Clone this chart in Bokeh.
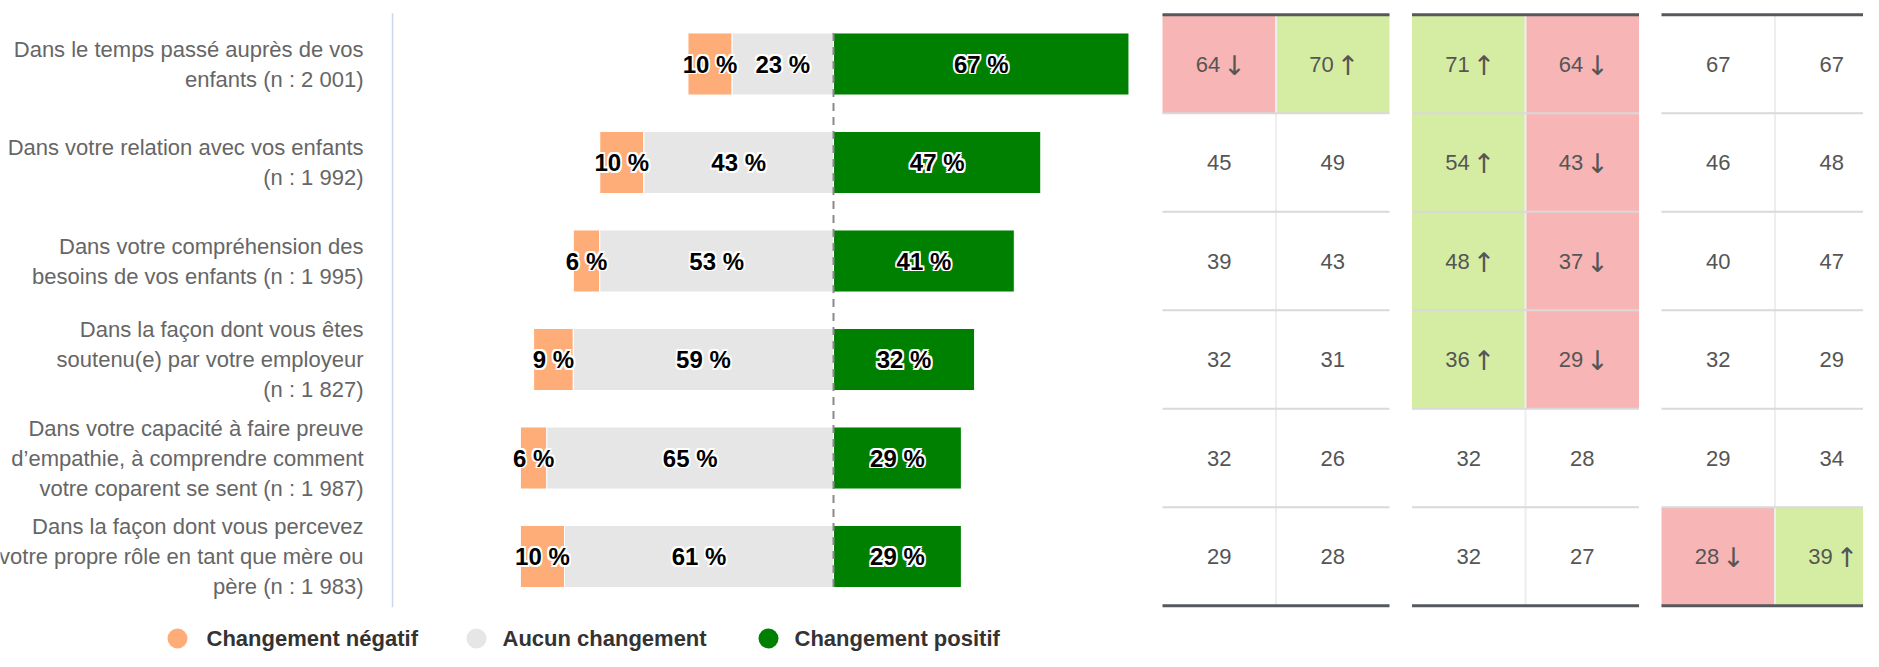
from bokeh.plotting import figure
from bokeh.models import Range1d, ColumnDataSource
from bokeh.core.properties import value
from bokeh.embed import file_html
from bokeh.resources import INLINE

# ---------------- data ----------------
categories = [
    "Dans le temps passé auprès de vos\nenfants (n : 2 001)",
    "Dans votre relation avec vos enfants\n(n : 1 992)",
    "Dans votre compréhension des\nbesoins de vos enfants (n : 1 995)",
    "Dans la façon dont vous êtes\nsoutenu(e) par votre employeur\n(n : 1 827)",
    "Dans votre capacité à faire preuve\nd’empathie, à comprendre comment\nvotre coparent se sent (n : 1 987)",
    "Dans la façon dont vous percevez\nvotre propre rôle en tant que mère ou\npère (n : 1 983)",
]
negatif = [10, 10, 6, 9, 6, 10]
aucun = [23, 43, 53, 59, 65, 61]
positif = [67, 47, 41, 32, 29, 29]
series_names = ["Changement négatif", "Aucun changement", "Changement positif"]

# table columns (values and significance flags)
col1 = [64, 45, 39, 32, 32, 29]
flag1 = ["down", None, None, None, None, None]
col2 = [70, 49, 43, 31, 26, 28]
flag2 = ["up", None, None, None, None, None]
col3 = [71, 54, 48, 36, 32, 32]
flag3 = ["up", "up", "up", "up", None, None]
col4 = [64, 43, 37, 29, 28, 27]
flag4 = ["down", "down", "down", "down", None, None]
col5 = [67, 46, 40, 32, 29, 28]
flag5 = [None, None, None, None, None, "down"]
col6 = [67, 48, 47, 29, 34, 39]
flag6 = [None, None, None, None, None, "up"]

# ---------------- styling ----------------
FONT = value("Liberation Sans")
C_NEG, C_NONE, C_POS = "#ffad78", "#e6e6e6", "#008000"
C_UP, C_DOWN = "#d5eda2", "#f7b5b5"

W, H = 1863, 651
PX = 4.41          # pixels per percent
ZERO = 833         # figure x of 0 %
ROW = 98.5         # pixels per category
C0 = 63.5          # figure y of first category centre
COLW = 113.5       # table column width (px)
TBL0 = 1162        # figure x of table left edge
GAP = 22.5 / COLW  # gap between column groups (in column units)

p = figure(width=W, height=H,
           x_range=Range1d(-ZERO / PX, (W - ZERO) / PX),
           y_range=Range1d((H - C0) / ROW, -C0 / ROW),
           output_backend="svg", toolbar_location=None,
           x_axis_location=None, y_axis_location=None,
           min_border=0, outline_line_color=None)
p.grid.visible = False
p.extra_x_ranges = {"tbl": Range1d(-TBL0 / COLW, (W - TBL0) / COLW)}

ys = list(range(len(categories)))
src = ColumnDataSource(dict(
    y=ys,
    neg_l=[-(n + z) for n, z in zip(negatif, aucun)],
    neg_r=[-z for z in aucun],
    none_l=[-z for z in aucun],
    zero=[0] * len(ys),
    pos_r=positif,
))
BH = 0.63
p.hbar(y="y", left="neg_l", right="neg_r", height=BH, source=src,
       fill_color=C_NEG, line_color="white", line_width=1)
p.hbar(y="y", left="none_l", right="zero", height=BH, source=src,
       fill_color=C_NONE, line_color="white", line_width=1)
p.hbar(y="y", left="zero", right="pos_r", height=BH, source=src,
       fill_color=C_POS, line_color="white", line_width=1)

# zero dashed line
p.segment(x0=[0], y0=[-BH / 2], x1=[0], y1=[ys[-1] + BH / 2],
          line_color="#8a8a8a", line_width=2, line_dash="8 6")

# axis line
p.segment(x0=[-100], y0=[-0.515], x1=[-100], y1=[ys[-1] + 0.515],
          line_color="#ccd6eb", line_width=1.5)

# category labels
p.text(x=[-100] * len(ys), y=ys, text=categories, x_offset=-29,
       text_align="right", text_baseline="middle", text_font=FONT,
       text_font_size="22px", text_color="#666666", text_line_height=1.2)

# data labels with white outline
lx, ly, lt = [], [], []
for i, (n, z, pp) in enumerate(zip(negatif, aucun, positif)):
    lx += [-(z + n / 2), -z / 2, pp / 2]
    ly += [i, i, i]
    lt += [f"{n} %", f"{z} %", f"{pp} %"]
lsrc = ColumnDataSource(dict(x=lx, y=ly, t=lt))
d = 1.6
for dx, dy in [(-d, 0), (d, 0), (0, -d), (0, d), (-d, -d), (d, d), (-d, d), (d, -d)]:
    p.text(x="x", y="y", text="t", source=lsrc, x_offset=dx, y_offset=dy,
           text_align="center", text_baseline="middle", text_font=FONT,
           text_font_size="24px", text_font_style="bold", text_color="white")
p.text(x="x", y="y", text="t", source=lsrc,
       text_align="center", text_baseline="middle", text_font=FONT,
       text_font_size="24px", text_font_style="bold", text_color="#000000")

# legend
def fx(px):
    return (px - ZERO) / PX
leg_y = (638 - C0) / ROW
p.scatter(x=[fx(177), fx(476), fx(768)], y=[leg_y] * 3, size=20, marker="circle",
          fill_color=[C_NEG, C_NONE, C_POS], line_color=None)
p.text(x=[fx(206), fx(502), fx(794)], y=[leg_y] * 3, text=series_names,
       text_align="left", text_baseline="middle", text_font=FONT,
       text_font_size="22px", text_font_style="bold", text_color="#333333")

# ---------------- table ----------------
cols = [col1, col2, col3, col4, col5, col6]
flags = [flag1, flag2, flag3, flag4, flag5, flag6]
ql, qr, qt, qb, qc = [], [], [], [], []
px_, py_, pt_ = [], [], []      # plain numbers
fx_, fy_, ft_ = [], [], []      # flagged numbers
ax_, ay_, at_ = [], [], []      # arrows
for k, (vals, fl) in enumerate(zip(cols, flags)):
    g, c = divmod(k, 2)
    left = g * (2 + GAP) + c
    for r, (v, f) in enumerate(zip(vals, fl)):
        if f is not None:
            ql.append(left); qr.append(left + 1)
            qt.append(r - 0.5); qb.append(r + 0.5)
            qc.append(C_UP if f == "up" else C_DOWN)
            fx_.append(left + 0.5); fy_.append(r); ft_.append(f"{v}")
            ax_.append(left + 0.5); ay_.append(r); at_.append("↑" if f == "up" else "↓")
        else:
            px_.append(left + 0.5); py_.append(r); pt_.append(f"{v}")
p.quad(left=ql, right=qr, top=qt, bottom=qb, fill_color=qc, line_color=None,
       x_range_name="tbl")

ngroups = 3
# vertical divider inside groups
p.segment(x0=[g * (2 + GAP) + 1 for g in range(ngroups)], y0=[-0.5] * ngroups,
          x1=[g * (2 + GAP) + 1 for g in range(ngroups)], y1=[ys[-1] + 0.5] * ngroups,
          line_color="#eeeeee", line_width=2, x_range_name="tbl")
# row separators
sx0, sx1, sy = [], [], []
for g in range(ngroups):
    for r in range(len(ys) - 1):
        sx0.append(g * (2 + GAP)); sx1.append(g * (2 + GAP) + 2); sy.append(r + 0.5)
p.segment(x0=sx0, y0=sy, x1=sx1, y1=sy, line_color="#d9d9d9", line_width=2,
          x_range_name="tbl")
# top / bottom rules
bx0, bx1, by = [], [], []
for g in range(ngroups):
    for yy in (-0.5, ys[-1] + 0.5):
        bx0.append(g * (2 + GAP)); bx1.append(g * (2 + GAP) + 2); by.append(yy)
p.segment(x0=bx0, y0=by, x1=bx1, y1=by, line_color="#55585d", line_width=3,
          x_range_name="tbl")

TXT = "#555555"
p.text(x=px_, y=py_, text=pt_, text_align="center", text_baseline="middle",
       text_font=FONT, text_font_size="22px", text_color=TXT, x_range_name="tbl")
p.text(x=fx_, y=fy_, text=ft_, text_align="right", text_baseline="middle",
       x_offset=1, text_font=FONT, text_font_size="22px", text_color=TXT,
       x_range_name="tbl")
p.text(x=ax_, y=ay_, text=at_, text_align="left", text_baseline="middle",
       x_offset=4, y_offset=1, text_font=value("DejaVu Sans"), text_font_size="27px",
       text_color=TXT, x_range_name="tbl")

open("out.html", "w").write(file_html(p, INLINE))
